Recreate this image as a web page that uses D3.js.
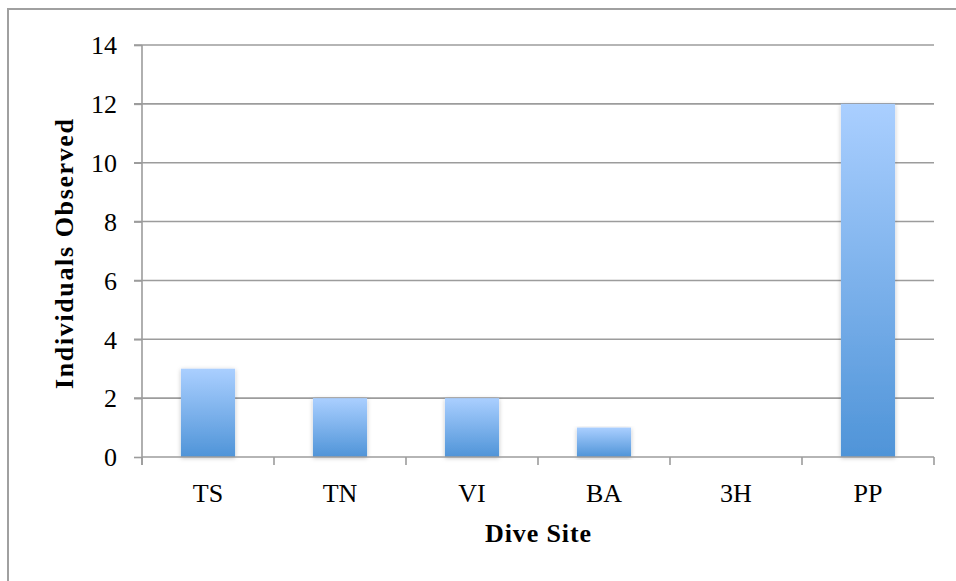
<!DOCTYPE html>
<meta charset="utf-8">
<script src="https://cdn.jsdelivr.net/npm/d3@7"></script>
<style>
  body { margin: 0; background: #fff; }
  text { font-family: "Liberation Serif", "DejaVu Serif", serif; fill: #000; }
</style>
<body>
<script>

var sites = ["TS", "TN", "VI", "BA", "3H", "PP"]
var counts = [3, 2, 2, 1, 0, 12]
var yTicks = [0, 2, 4, 6, 8, 10, 12, 14]

var width = 956
var height = 581

var x = d3.scaleBand().domain(sites).range([142, 934]).paddingInner(0.59).paddingOuter(0.295)
var y = d3.scaleLinear().domain([0, 14]).range([457, 45])

var svg = d3.select("body").append("svg")
            .attr("width", width)
            .attr("height", height)

var defs = svg.append("defs")
var grad = defs.append("linearGradient").attr("id", "barGrad")
               .attr("x1", 0).attr("y1", 0).attr("x2", 0).attr("y2", 1)
grad.append("stop").attr("offset", "0%").attr("stop-color", "#aacfff")
grad.append("stop").attr("offset", "100%").attr("stop-color", "#4f94d8")

var shadow = defs.append("filter").attr("id", "shadow")
                 .attr("x", "-20%").attr("y", "-5%").attr("width", "140%").attr("height", "115%")
shadow.append("feDropShadow").attr("dx", 0).attr("dy", 1).attr("stdDeviation", 2)
      .attr("flood-color", "#000").attr("flood-opacity", 0.25)

// outer frame
svg.append("rect")
   .attr("x", 8).attr("y", 9)
   .attr("width", 960).attr("height", 590)
   .attr("fill", "none").attr("stroke", "#a0a0a0").attr("stroke-width", 2)

// gridlines
svg.append("g").selectAll("line").data(yTicks.filter(d => d > 0)).enter().append("line")
   .attr("x1", 134).attr("x2", 934)
   .attr("y1", d => y(d)).attr("y2", d => y(d))
   .attr("stroke", "#9c9c9c").attr("stroke-width", 1.6)

// y axis
var yAxis = svg.append("g")
    .attr("transform", "translate(142,0)")
    .call(d3.axisLeft(y).tickValues(yTicks).tickSize(8).tickPadding(17).tickFormat(d3.format("d")))
yAxis.select(".domain").remove()
yAxis.append("line").attr("x1", 0).attr("x2", 0).attr("y1", 45).attr("y2", 465)
     .attr("stroke", "#9c9c9c").attr("stroke-width", 1.6)
yAxis.selectAll(".tick line").attr("stroke", "#9c9c9c").attr("stroke-width", 1.6)
yAxis.selectAll(".tick text").style("font-size", "26px").attr("fill", "#000")
     .attr("font-family", "Liberation Serif").attr("dy", "0.34em")

// bars
svg.append("g").selectAll("rect").data(counts).enter().append("rect")
   .attr("x", (d, i) => x(sites[i]))
   .attr("y", d => y(d))
   .attr("width", x.bandwidth())
   .attr("height", d => y(0) - y(d))
   .attr("fill", "url(#barGrad)")
   .attr("filter", "url(#shadow)")
   .style("display", d => d > 0 ? null : "none")

// x axis
var xAxis = svg.append("g").attr("transform", "translate(0," + y(0) + ")")
xAxis.append("line").attr("x1", 142).attr("x2", 934).attr("y1", 0).attr("y2", 0)
     .attr("stroke", "#9c9c9c").attr("stroke-width", 1.6)
var bounds = sites.map(s => x(s) - x.step() * x.paddingInner() / 2).concat([934])
xAxis.selectAll(".bt").data(bounds).enter().append("line")
     .attr("x1", d => d).attr("x2", d => d).attr("y1", 0).attr("y2", 8)
     .attr("stroke", "#9c9c9c").attr("stroke-width", 1.6)
xAxis.selectAll("text").data(sites).enter().append("text")
     .attr("x", d => x(d) + x.bandwidth() / 2)
     .attr("y", 45)
     .attr("text-anchor", "middle")
     .style("font-size", "26px")
     .text(d => d)

// axis titles
svg.append("text")
   .attr("x", 538).attr("y", 542)
   .attr("text-anchor", "middle")
   .style("font-size", "26px").style("font-weight", "bold")
   .attr("textLength", 106).attr("lengthAdjust", "spacing")
   .text("Dive Site")

svg.append("text")
   .attr("transform", "translate(73,254) rotate(-90)")
   .attr("text-anchor", "middle")
   .style("font-size", "26px").style("font-weight", "bold")
   .attr("textLength", 270).attr("lengthAdjust", "spacing")
   .text("Individuals Observed")

</script>
</body>
